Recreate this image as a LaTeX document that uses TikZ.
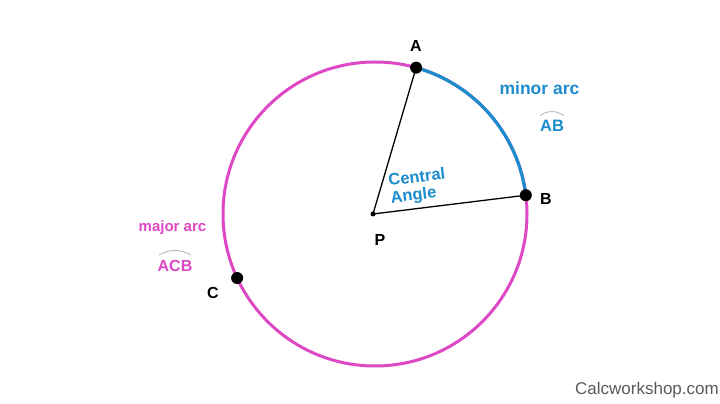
\documentclass[tikz,border=0pt]{standalone}
\usepackage{fontspec}
\usetikzlibrary{calc}
\setmainfont{Liberation Sans}
\definecolor{mag}{RGB}{222,72,196}
\definecolor{arcblue}{RGB}{28,140,204}
\definecolor{wm}{RGB}{90,90,90}
\begin{document}
\begin{tikzpicture}[x=1pt,y=1pt,
  ptlabel/.style={font=\fontsize{16}{16}\selectfont\bfseries, text=black, inner sep=0pt},
  bigdot/.style={circle, fill=black, inner sep=0pt, minimum size=12pt},
  smalldot/.style={circle, fill=black, inner sep=0pt, minimum size=5pt},
  bluetxt/.style={font=\fontsize{17.5}{17}\selectfont\bfseries, text=arcblue, inner sep=0pt},
  magtxt/.style={font=\fontsize{15}{15}\selectfont\bfseries, text=mag, inner sep=0pt},
  hat/.style={draw=gray!60, line width=0.8pt}]
\path[fill=white] (0,0) rectangle (720,404);
\useasboundingbox (0,0) rectangle (720,404);
\coordinate (O) at (375,190);
% circle
\draw[mag, line width=3pt] (O) circle[radius=152];
\draw[arcblue, line width=3.2pt] ($(O)+(7.1:152)$) arc[start angle=7.1, end angle=74.3, radius=152];
% points
\node[smalldot] (P) at (373,190) {};
\node[bigdot] (A) at ($(O)+(74.3:152)$) {};
\node[bigdot] (B) at ($(O)+(7.1:152)$) {};
\node[bigdot] (C) at ($(O)+(204.9:152)$) {};
\draw[black, line width=1.3pt] (A.center) -- (P.center) -- (B.center);
% labels
\node[ptlabel] (lA) at (416,357.5) {A};
\node[ptlabel] (lB) at (546,205) {B};
\node[ptlabel] (lP) at (380,164) {P};
\node[ptlabel] (lC) at (213,111) {C};
\node[bluetxt] (minor) at (539.5,316) {minor arc};
\node[bluetxt, font=\fontsize{16.5}{16}\selectfont\bfseries] (ab) at (552,278.5) {AB};
\draw[hat] ([xshift=-12pt,yshift=4pt]ab.north) to[bend left=35] ([xshift=12pt,yshift=4pt]ab.north);
\node[bluetxt, font=\fontsize{16.5}{17.5}\selectfont\bfseries, align=left, rotate=7] (cent) at (418,217) {Central\\Angle};
\node[magtxt] (major) at (172.5,176) {major arc};
\node[magtxt, font=\fontsize{16}{16}\selectfont\bfseries] (acb) at (175,138) {ACB};
\draw[hat] ([xshift=-16pt,yshift=5pt]acb.north) to[bend left=30] ([xshift=16pt,yshift=5pt]acb.north);
\node[text=wm, font=\fontsize{17}{17}\selectfont, anchor=west, inner sep=0pt] (wmark) at (575,14) {Calcworkshop.com};
\end{tikzpicture}
\end{document}
